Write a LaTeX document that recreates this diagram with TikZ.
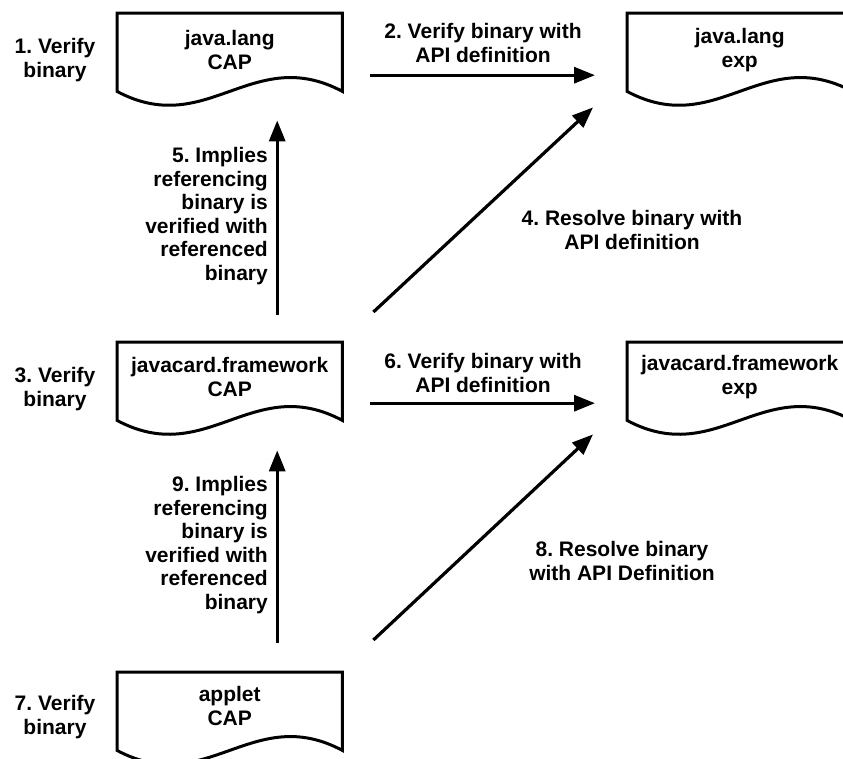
\documentclass[tikz,border=0pt]{standalone}
\usepackage{fontspec}
\setmainfont{Liberation Sans}
\usetikzlibrary{arrows.meta,calc}
\frenchspacing

\tikzset{
  docbox/.style={rectangle, minimum width=225pt, minimum height=78pt, inner sep=0pt, anchor=north west},
  docline/.style={line width=3pt, line join=miter},
  txt/.style={font=\bfseries\fontsize{21}{23.5}\selectfont, inner sep=0pt, align=center},
  rtxt/.style={txt, align=right, anchor=east},
  arr/.style={line width=3.2pt, -{Triangle[length=21pt,width=16pt]}},
}

% outline of a document symbol: straight top and sides, wavy bottom
\newcommand{\docoutline}[1]{%
  \draw[docline] (#1.south west) -- (#1.north west) -- (#1.north east) -- (#1.south east)
    .. controls ($(#1.south east)+(-90,-48)$) and ($(#1.south west)+(90,48)$) .. (#1.south west) -- cycle;}

\begin{document}
\begin{tikzpicture}[x=1pt, y=-1pt]
  \useasboundingbox (0,0) rectangle (843,758);
  \clip (0,0) rectangle (843,758);

  % document boxes
  \node[docbox] (cap1) at (117,13) {};
  \node[docbox] (exp1) at (627,13) {};
  \node[docbox] (cap2) at (117,342) {};
  \node[docbox] (exp2) at (627,342) {};
  \node[docbox] (cap3) at (117,672) {};
  \foreach \b in {cap1,exp1,cap2,exp2,cap3} {\docoutline{\b}}

  % box titles
  \node[txt] (cap1t) at ($(cap1.north)+(0,37)$) {java.lang\\CAP};
  \node[txt] (exp1t) at ($(exp1.north)+(0,37)$) {java.lang\\exp};
  \node[txt] (cap2t) at ($(cap2.north)+(0,35)$) {javacard.framework\\CAP};
  \node[txt] (exp2t) at ($(exp2.north)+(0,35)$) {javacard.framework\\exp};
  \node[txt] (cap3t) at ($(cap3.north)+(0,34)$) {applet\\CAP};

  % step labels on the left
  \node[txt] (v1) at (55,60) {1. Verify\\binary};
  \node[txt] (v3) at (55,389) {3. Verify\\binary};
  \node[txt] (v7) at (55,717) {7. Verify\\binary};

  % connectors
  \draw[arr, shorten <=28pt, shorten >=32pt] ([yshift=-23pt]cap1.east) -- ([yshift=-23pt]exp1.west);
  \draw[arr, shorten <=28pt, shorten >=32pt] ([yshift=-22pt]cap2.east) -- ([yshift=-22pt]exp2.west);
  \draw[arr, shorten <=27pt, shorten >=29pt] ([xshift=47.5pt]cap2.north) -- ([xshift=47.5pt]cap1.south);
  \draw[arr, shorten <=29pt, shorten >=30pt] ([xshift=47.5pt]cap3.north) -- ([xshift=47.5pt]cap2.south);
  \draw[arr] ($(cap2.north east)+(31,-30)$) -- ($(exp1.south west)+(-34,16)$);
  \draw[arr] ($(cap3.north east)+(31,-32)$) -- ($(exp2.south west)+(-34,14)$);

  % connector labels
  \node[txt] (l2) at (483,43) {2. Verify binary with\\API definition};
  \node[txt] (l6) at (483,373) {6. Verify binary with\\API definition};
  \node[txt] (l4) at (632,230) {4. Resolve binary with\\API definition};
  \node[txt] (l8) at (622,561) {8. Resolve binary\\with API Definition};
  \node[rtxt] (l5) at (268,216) {5. Implies\\referencing\\binary is\\verified with\\referenced\\binary};
  \node[rtxt] (l9) at (268,545) {9. Implies\\referencing\\binary is\\verified with\\referenced\\binary};
\end{tikzpicture}
\end{document}
